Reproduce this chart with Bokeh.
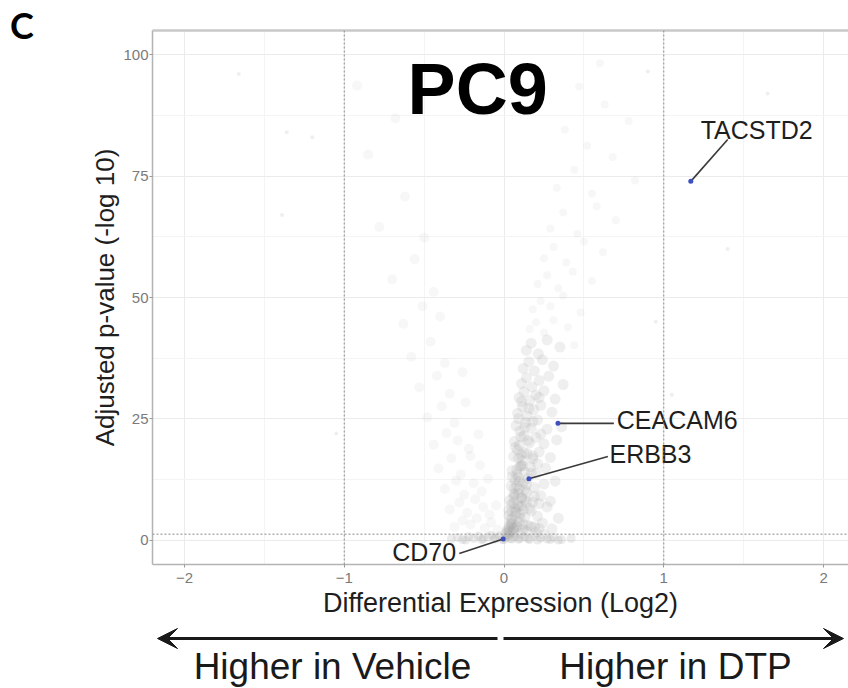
from bokeh.plotting import figure
from bokeh.models import Label, Arrow, VeeHead, Span, LinearAxis, FixedTicker, ColumnDataSource, Div, Spacer
from bokeh.layouts import column, row
from bokeh.embed import file_html
from bokeh.resources import INLINE
from bokeh.core.properties import value

# ---------------- data ----------------
# bottom band near p-adj ~ 0
band_fc = [-0.33, -0.29, -0.26, -0.22, -0.19, -0.16, -0.13, -0.10, -0.08, -0.05, -0.03, -0.01, 0.01, 0.03,
           0.05, 0.07, 0.10, 0.13, 0.16, 0.19, 0.23, 0.27, 0.31, 0.36, 0.42,
           -0.24, -0.14, -0.06, 0.00, 0.04, 0.09, 0.15, 0.21, 0.29, 0.34]
band_p = [0.3, 0.6, 0.2, 0.8, 0.4, 0.9, 0.3, 0.7, 1.1, 0.5, 0.9, 0.2, 0.6, 1.0,
          0.3, 0.8, 0.4, 0.7, 0.2, 0.9, 0.5, 0.3, 0.6, 0.2, 0.4,
          0.1, 0.2, 0.3, 0.15, 0.4, 0.25, 0.35, 0.1, 0.2, 0.1]

# dense wedge of genes higher in DTP
core_fc = [0.02, 0.04, 0.06, 0.09, 0.12, 0.15, 0.19, 0.24, 0.30,
           0.03, 0.05, 0.07, 0.10, 0.13, 0.17, 0.21, 0.27, 0.34,
           0.035, 0.06, 0.085, 0.11, 0.14, 0.18, 0.23, 0.29,
           0.045, 0.07, 0.095, 0.12, 0.15, 0.19, 0.25, 0.32,
           0.05, 0.08, 0.105, 0.13, 0.165, 0.20, 0.26,
           0.06, 0.085, 0.115, 0.145, 0.18, 0.22, 0.29,
           0.065, 0.095, 0.125, 0.16, 0.20, 0.25, 0.33,
           0.075, 0.10, 0.135, 0.17, 0.21, 0.27, 0.36,
           0.085, 0.115, 0.145, 0.185, 0.23, 0.30,
           0.095, 0.125, 0.16, 0.20, 0.25, 0.32,
           0.11, 0.14, 0.175, 0.22, 0.28, 0.37,
           0.12, 0.155, 0.19, 0.24, 0.31,
           0.14, 0.17, 0.215, 0.27, 0.35,
           0.02, 0.03, 0.04, 0.05, 0.06, 0.07, 0.08, 0.09, 0.10, 0.11, 0.03,
           0.05, 0.07, 0.09, 0.11, 0.13, 0.04, 0.06, 0.08, 0.10, 0.12, 0.14,
           0.015, 0.03, 0.045, 0.06, 0.08, 0.10, 0.12, 0.14, 0.17, 0.20, 0.22, 0.25,
           0.03, 0.045, 0.06, 0.075, 0.09, 0.11, 0.13, 0.16, 0.19, 0.22,
           0.05, 0.065, 0.08, 0.095, 0.115, 0.14, 0.17, 0.21,
           0.07, 0.09, 0.105, 0.125, 0.15, 0.18, 0.23,
           0.09, 0.11, 0.13, 0.155, 0.18, 0.22]
core_p = [2.1, 3.4, 2.6, 3.9, 2.3, 3.1, 2.8, 3.6, 2.4,
          5.2, 4.4, 6.6, 5.5, 4.8, 6.1, 5.0, 6.9, 4.6,
          8.3, 9.6, 7.4, 8.8, 9.9, 7.9, 9.2, 8.1,
          11.2, 12.5, 10.6, 11.9, 12.8, 10.9, 11.6, 12.2,
          14.4, 13.6, 15.5, 14.1, 15.2, 13.8, 14.9,
          17.3, 18.6, 16.4, 17.9, 16.8, 18.2, 17.1,
          20.4, 19.6, 21.5, 20.1, 21.2, 19.9, 20.7,
          23.6, 22.5, 24.3, 23.1, 24.8, 22.9, 23.4,
          26.2, 27.5, 25.6, 26.9, 27.8, 26.4,
          29.4, 30.6, 28.8, 29.9, 30.8, 29.1,
          32.3, 33.5, 31.6, 32.9, 33.8, 32.1,
          35.4, 36.8, 34.9, 37.2, 35.9,
          39.1, 40.6, 38.4, 41.3, 39.8,
          1.5, 2.8, 4.2, 6.0, 7.7, 9.4, 11.3, 13.0, 15.2, 17.6, 1.2,
          3.5, 5.1, 6.9, 8.7, 10.4, 1.8, 2.4, 3.0, 4.6, 6.3, 7.9,
          1.6, 2.2, 3.1, 1.9, 2.7, 1.4, 3.3, 2.0, 2.9, 1.7, 2.5, 1.3,
          6.2, 7.4, 8.9, 5.8, 9.7, 7.1, 8.4, 6.6, 9.1, 7.6,
          13.1, 10.8, 14.6, 12.2, 15.4, 11.5, 13.9, 15.8,
          19.2, 16.9, 21.3, 18.1, 20.6, 17.4, 21.9,
          25.1, 28.6, 23.3, 27.2, 24.5, 29.4]

# sparse upper part of the DTP side
up_fc = [0.44, 0.16, 0.20, 0.25, 0.31, 0.40,
         0.18, 0.23, 0.29, 0.37, 0.48,
         0.21, 0.27, 0.34, 0.43, 0.55,
         0.25, 0.31, 0.39, 0.50, 0.62,
         0.29, 0.37, 0.46, 0.58, 0.70,
         0.33, 0.44, 0.55, 0.68, 0.82,
         0.38, 0.52, 0.63, 0.78,
         0.22, 0.47, 0.60]
up_p = [40.2, 43.5, 44.9, 42.8, 45.3, 43.9,
        47.6, 49.3, 48.2, 50.4, 46.9,
        52.8, 54.6, 51.9, 55.3, 53.4,
        58.1, 60.4, 57.2, 61.5, 59.3,
        64.2, 67.5, 63.1, 68.8, 65.9,
        72.6, 76.3, 71.4, 78.9, 74.1,
        84.5, 81.2, 89.7, 86.3,
        95.1, 93.4, 98.2]

# lobe of genes higher in Vehicle
down_fc = [-0.31, -0.26, -0.21, -0.17, -0.12, -0.08, -0.04,
           -0.34, -0.28, -0.23, -0.18, -0.13, -0.09, -0.05,
           -0.37, -0.30, -0.25, -0.19, -0.14, -0.10,
           -0.41, -0.33, -0.27, -0.21, -0.15,
           -0.44, -0.36, -0.29, -0.22, -0.16,
           -0.48, -0.39, -0.31, -0.24,
           -0.53, -0.42, -0.34, -0.26,
           -0.58, -0.46, -0.37,
           -0.63, -0.51, -0.40,
           -0.70, -0.56, -0.44,
           -0.78, -0.62, -0.50,
           -0.85, -0.68, -0.92, -0.55]
down_p = [2.8, 4.1, 3.3, 4.6, 2.5, 3.7, 2.2,
          6.4, 7.8, 5.7, 8.5, 6.9, 5.3, 7.2,
          10.6, 12.3, 9.4, 11.8, 10.1, 12.7,
          14.8, 16.9, 13.6, 17.4, 15.5,
          19.7, 22.1, 20.6, 18.9, 21.8,
          25.3, 27.6, 24.2, 28.4,
          31.5, 33.9, 30.2, 34.6,
          37.8, 40.9, 36.5,
          44.6, 48.2, 46.1,
          53.7, 57.9, 51.2,
          64.5, 70.8, 62.3,
          79.4, 86.9, 93.6, 97.2]

# faint isolated genes
far_fc = [-1.66, -1.36, -1.39, -1.20, 0.95, 1.05, 1.40, 1.65, -1.05, 0.90]
far_p = [96.0, 84.0, 67.0, 83.0, 45.0, 30.0, 60.0, 92.0, 22.0, 96.5]

# highlighted genes
hl_genes = ["TACSTD2", "CEACAM6", "ERBB3", "CD70"]
hl_fc = [1.169, 0.3375, 0.156, -0.005]
hl_p = [73.9, 24.1, 12.7, 0.3]
lab_fc = [1.40, 0.6875, 0.65, -0.28]
lab_p = [82.5, 24.1, 17.3, -2.7]
txt_fc = [1.231, 0.706, 0.66, -0.30]
txt_p = [84.4, 24.7, 17.9, -2.3]
txt_align = ["left", "left", "left", "right"]

x_ticks = [-2, -1, 0, 1, 2]
y_ticks = [0, 25, 50, 75, 100]
fc_cut = [-1, 1]
p_cut = 1.3

FONT = "Liberation Sans"
X_RANGE = (-2.2, 2.156)

# ---------------- main volcano panel ----------------
p = figure(width=788, height=624, x_range=X_RANGE, y_range=(-4.94, 104.94),
           output_backend="svg", toolbar_location=None,
           min_border_left=92, min_border_right=0, min_border_top=30, min_border_bottom=60,
           background_fill_color="white", border_fill_color="white")
p.outline_line_color = None

p.xgrid.ticker = FixedTicker(ticks=x_ticks, minor_ticks=[-1.5, -0.5, 0.5, 1.5])
p.ygrid.ticker = FixedTicker(ticks=y_ticks, minor_ticks=[12.5, 37.5, 62.5, 87.5])
for g in (p.xgrid, p.ygrid):
    g.grid_line_color = "#ebebeb"
    g.grid_line_width = 1
    g.minor_grid_line_color = "#f4f4f4"
    g.minor_grid_line_width = 1

p.xaxis.ticker = FixedTicker(ticks=x_ticks)
p.yaxis.ticker = FixedTicker(ticks=y_ticks)
p.xaxis.axis_label = "Differential Expression (Log2)"
p.yaxis.axis_label = "Adjusted p-value (-log 10)"
for ax in (p.xaxis, p.yaxis):
    ax.axis_line_color = "#b3b3b3"
    ax.axis_line_width = 1.5
    ax.major_tick_line_color = "#9a9a9a"
    ax.major_tick_in = 0
    ax.major_tick_out = 3
    ax.minor_tick_line_color = None
    ax.major_label_text_font = FONT
    ax.major_label_text_font_size = "15px"
    ax.major_label_text_color = "#7a7a7a"
    ax.axis_label_text_font = FONT
    ax.axis_label_text_font_style = "normal"
    ax.axis_label_text_color = "#1e1e1e"
p.yaxis.axis_label_text_font_size = "26px"
p.xaxis.axis_label_text_font_size = "27px"
p.yaxis.major_label_standoff = 1
p.xaxis.major_label_standoff = 5
p.yaxis.axis_label_standoff = 0
p.xaxis.axis_label_standoff = 2
p.xaxis.major_label_overrides = {-2: "\u22122", -1: "\u22121"}

top = LinearAxis(ticker=FixedTicker(ticks=[]), axis_line_color="#c8c8c8", axis_line_width=2.5,
                 major_tick_line_color=None, minor_tick_line_color=None,
                 major_label_text_font_size="0px", major_label_standoff=0)
p.add_layout(top, "above")

for xv in fc_cut:
    p.add_layout(Span(location=xv, dimension="height", line_color="#8a8a8a",
                      line_dash="2 2", line_width=1))
p.add_layout(Span(location=p_cut, dimension="width", line_color="#8a8a8a",
                  line_dash="2 2", line_width=1))

p.scatter(far_fc, far_p, size=4, fill_color="#b0b0b0", line_color=None, fill_alpha=0.2)
p.scatter(up_fc, up_p, size=8, fill_color="#b0b0b0", line_color=None, fill_alpha=0.1)
p.scatter(down_fc, down_p, size=10, fill_color="#b0b0b0", line_color=None, fill_alpha=0.1)
p.scatter(band_fc, band_p, size=9, fill_color="#a8a8a8", line_color=None, fill_alpha=0.22)
p.scatter(core_fc, core_p, size=11, fill_color="#a8a8a8", line_color=None, fill_alpha=0.18)

src = ColumnDataSource(dict(x=hl_fc, y=hl_p, lx=lab_fc, ly=lab_p, tx=txt_fc, ty=txt_p,
                            name=hl_genes, align=txt_align))
p.segment(x0="x", y0="y", x1="lx", y1="ly", source=src, line_color="#3a3a3a", line_width=1.6)
p.scatter(x="x", y="y", source=src, size=5, fill_color="#3f4fbf", line_color=None)
p.text(x="tx", y="ty", text="name", source=src, text_align="align", text_baseline="middle",
       text_font=value(FONT), text_font_size="25px", text_color="#1e1e1e")

p.add_layout(Label(x=-0.165, y=93, text="PC9", text_align="center", text_baseline="middle",
                   text_font=FONT, text_font_size="72px", text_font_style="bold",
                   text_color="black"))

# ---------------- panel letter ----------------
letter = Div(text="C", width=60, height=48,
             styles={"font-family": "Lato", "font-weight": "bold", "font-size": "36px",
                     "line-height": "36px", "padding-left": "10px", "padding-top": "7px",
                     "color": "black", "margin": "0px", "box-sizing": "border-box"})
left_strip = column(letter, Spacer(width=60, height=576))

# ---------------- direction arrows strip ----------------
pa = figure(width=848, height=64, x_range=(-3.14375, 2.15625), y_range=(64, 0),
            output_backend="svg", toolbar_location=None, min_border=0,
            background_fill_color="white", border_fill_color="white")
pa.axis.visible = False
pa.grid.visible = False
pa.outline_line_color = None
head = dict(size=20, fill_color="#1a1a1a", line_color="#1a1a1a")
pa.add_layout(Arrow(end=VeeHead(**head), x_start=-0.0375, y_start=14, x_end=-2.1625, y_end=14,
                    line_width=3, line_color="#1a1a1a"))
pa.add_layout(Arrow(end=VeeHead(**head), x_start=0.0, y_start=14, x_end=2.125, y_end=14,
                    line_width=3, line_color="#1a1a1a"))
pa.text(x=[-1.069, 1.075], y=[42, 42], text=["Higher in Vehicle", "Higher in DTP"],
        text_align="center", text_baseline="middle", text_font=value(FONT),
        text_font_size="37px", text_color="#1a1a1a")

layout = column(row(left_strip, p), pa)
open("out.html", "w").write(file_html(layout, INLINE))
